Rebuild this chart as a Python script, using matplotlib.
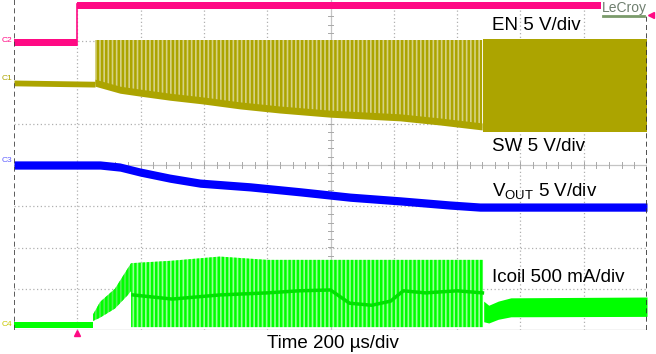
import matplotlib.pyplot as plt
import numpy as np

plt.rcParams['font.family'] = ['Liberation Sans', 'DejaVu Sans']
plt.rcParams['mathtext.default'] = 'regular'
plt.rcParams['hatch.linewidth'] = 1.8

# time in us (200 us/div), amplitudes in screen divisions (8 div high)
en_t = [0, 200, 200, 2000]
en_v = [2.96, 2.96, 3.85, 3.85]

sw_idle_t = [0, 256]
sw_idle_v = [1.99, 1.96]
sw_pulse_t = [256, 335, 398, 493, 597, 714, 840, 998, 1220, 1346, 1479]
sw_pulse_low = [1.96, 1.79, 1.72, 1.62, 1.53, 1.41, 1.31, 1.21, 1.12, 1.02, 0.90]
sw_pulse_high = [3.03] * len(sw_pulse_t)
sw_dense_t = [1482, 2000]
sw_dense_low = [0.80, 0.80]
sw_dense_high = [3.05, 3.05]

vout_t = [0, 272, 335, 398, 493, 588, 746, 904, 1062, 1220, 1377, 1472, 2000]
vout_v = [0, 0, -0.05, -0.17, -0.32, -0.44, -0.53, -0.65, -0.78, -0.87, -0.97, -1.02, -1.02]

il_idle_t = [0, 250]
il_idle_v = [-3.88, -3.88]
il_ramp_t = [250, 272, 319, 360, 370]
il_ramp_low = [-3.78, -3.70, -3.48, -3.15, -3.05]
il_ramp_high = [-3.62, -3.32, -3.00, -2.50, -2.38]
il_osc_t = [370, 500, 650, 800, 1000, 1482]
il_osc_high = [-2.38, -2.32, -2.22, -2.30, -2.30, -2.30]
il_osc_low = [-3.93, -3.93, -3.93, -3.93, -3.93, -3.93]
il_mid_t = [376, 500, 650, 800, 900, 1000, 1060, 1130, 1190, 1230, 1300, 1400, 1480]
il_mid_v = [-3.15, -3.25, -3.15, -3.10, -3.05, -3.03, -3.35, -3.40, -3.30, -3.05, -3.10, -3.05, -3.10]
il_settle_t = [1484, 1500, 1530, 1570, 2000]
il_settle_high = [-3.30, -3.40, -3.30, -3.22, -3.20]
il_settle_low = [-3.80, -3.83, -3.74, -3.68, -3.67]

PINK = '#ff0a84'
OLIVE = '#aca400'
BLUE = '#0000ff'
GREEN = '#00ff00'

fig = plt.figure(figsize=(6.56, 3.54), dpi=100)
ax = fig.add_axes([14 / 656, 24 / 354, 633 / 656, 330 / 354])
ax.set_xlim(0, 2000)
ax.set_ylim(-4, 4)
ax.axis('off')

# graticule
for x in range(200, 2000, 200):
    if x != 1000:
        ax.axvline(x, color='#b0b0b0', lw=0.9, ls=(0, (1, 2)), zorder=0)
for y in [-3, -2, -1, 1, 2, 3]:
    ax.axhline(y, color='#b0b0b0', lw=0.9, ls=(0, (1, 2)), zorder=0)
ax.axvline(1000, color='#c4c4c4', lw=0.9, zorder=0)
ax.axhline(0, color='#c4c4c4', lw=0.9, zorder=0)
for x in np.arange(40, 2000, 40):
    ax.plot([x, x], [-0.07, 0.07], color='#a8a8a8', lw=0.7, zorder=0)
for y in np.arange(-3.8, 4, 0.2):
    ax.plot([991, 1009], [y, y], color='#a8a8a8', lw=0.7, zorder=0)
ax.axhline(-4, color='#c8c8c8', lw=1.0, zorder=0)
ax.axvline(0, color='#404040', lw=1.2, ls=(0, (3, 2)), zorder=6)
ax.axvline(2000, color='#303030', lw=1.2, ls=(0, (3, 2)), zorder=6)

# EN
en_v = np.array(en_v)
ax.fill_between(en_t, en_v - 0.08, en_v + 0.09, color=PINK, lw=0, zorder=3)
ax.plot([200, 200], [2.9, 3.9], color=PINK, lw=1.2, zorder=3)

# SW
sw_idle_v = np.array(sw_idle_v)
ax.fill_between(sw_idle_t, sw_idle_v - 0.07, sw_idle_v + 0.07, color=OLIVE, lw=0, zorder=3)
ax.fill_between(sw_pulse_t, sw_pulse_low, sw_pulse_high, facecolor='#d6d284',
                edgecolor=OLIVE, hatch='||||', lw=0, zorder=2)
low = np.array(sw_pulse_low)
ax.fill_between(sw_pulse_t, low - 0.05, low + 0.12, color=OLIVE, lw=0, zorder=3)
ax.fill_between(sw_dense_t, sw_dense_low, sw_dense_high, color=OLIVE, lw=0, zorder=3)

# VOUT
vout_v = np.array(vout_v)
ax.fill_between(vout_t, vout_v - 0.1, vout_v + 0.1, color=BLUE, lw=0, zorder=3)

# Icoil
il_idle_v = np.array(il_idle_v)
ax.fill_between(il_idle_t, il_idle_v - 0.07, il_idle_v + 0.07, color=GREEN, lw=0, zorder=3)
ax.fill_between(il_ramp_t, il_ramp_low, il_ramp_high, facecolor='#50f050',
                edgecolor=GREEN, hatch='||||', lw=0, zorder=3)
ax.fill_between(il_osc_t, il_osc_low, il_osc_high, facecolor='#98ff98',
                edgecolor=GREEN, hatch='||||', lw=0, zorder=3)
ax.plot(il_mid_t, il_mid_v, color='#00e000', lw=2.5, zorder=4)
ax.fill_between(il_settle_t, il_settle_low, il_settle_high, color=GREEN, lw=0, zorder=3)

# labels
fs = 13.5
ax.text(1510, 3.39, 'EN 5 V/div', fontsize=fs, va='center', zorder=7)
ax.text(1510, 0.44, 'SW 5 V/div', fontsize=fs, va='center', zorder=7)
ax.text(1510, -0.63, r'V$_{OUT}$ 5 V/div', fontsize=fs, va='center', zorder=7)
ax.text(1510, -2.72, 'Icoil 500 mA/div', fontsize=fs, va='center', zorder=7)
fig.text(0.508, 0.031, 'Time 200 µs/div', fontsize=fs, ha='center', va='center')

ax.text(1858, 3.80, 'LeCroy', fontsize=10, color='#6f7f6f', va='center', zorder=7,
        bbox=dict(facecolor='white', edgecolor='none', pad=0.8))
ax.plot([1862, 1990], [3.62, 3.62], color='#7a9a6a', lw=2.0, zorder=8)

# channel markers and trigger markers
for txt, yy, col in [('C2', 40, PINK), ('C1', 79, OLIVE), ('C3', 161, '#6060ff'), ('C4', 325, '#c8c800')]:
    fig.text(2 / 656, 1 - yy / 354, txt, fontsize=6, color=col, va='center')
ax.plot([200], [-4.08], marker='^', color=PINK, ms=5, clip_on=False, zorder=8)
ax.plot([2014], [3.64], marker='<', color=PINK, ms=5, clip_on=False, zorder=8)

fig.savefig('out.png', dpi=100)
